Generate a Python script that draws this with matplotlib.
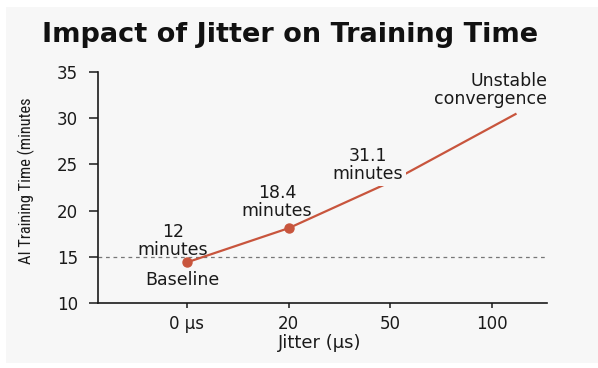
import matplotlib
matplotlib.use("Agg")
import matplotlib.pyplot as plt
from matplotlib.patches import Rectangle

# Data
categories = ["0 μs", "20", "50", "100"]
line_x = [0, 1, 2, 3.24]
line_y = [14.4, 18.1, 23.1, 30.5]
point_x = [0, 1]
point_y = [14.4, 18.1]
baseline = 15
y_ticks = [10, 15, 20, 25, 30, 35]

W, H = 598, 368
fig = plt.figure(figsize=(W / 100, H / 100), dpi=100)
fig.patch.set_facecolor("white")
bg = "#f7f7f7"
fig.patches.append(Rectangle((6 / W, 1 - 363 / H), (W - 6) / W, (363 - 7) / H,
                             transform=fig.transFigure, facecolor=bg,
                             edgecolor="none", zorder=-10))

ax = fig.add_axes([98 / W, 1 - 303 / H, (547 - 98) / W, (303 - 72) / H])
ax.set_facecolor(bg)
ax.patch.set_alpha(0)

red = "#c8553d"
txt = "#1a1a1a"

ax.axhline(baseline, color="#777777", linestyle=(0, (3, 3)), linewidth=0.9, zorder=1)
ax.plot(line_x, line_y, color=red, linewidth=1.6, zorder=2, solid_capstyle="butt")
ax.plot(point_x, point_y, "o", color=red, markersize=6.5, zorder=4)

ax.set_xlim(-0.875, 3.54)
ax.set_ylim(10, 35)
ax.set_xticks(range(len(categories)))
ax.set_xticklabels(categories)
ax.set_yticks(y_ticks)

for s in ["top", "right"]:
    ax.spines[s].set_visible(False)
for s in ["left", "bottom"]:
    ax.spines[s].set_color(txt)
    ax.spines[s].set_linewidth(1.2)
ax.tick_params(axis="both", colors=txt, labelsize=12, width=1.1)
ax.tick_params(axis="y", length=6.5, pad=8)
ax.tick_params(axis="x", length=3.5, pad=5)

bb = dict(boxstyle="square,pad=0.15", facecolor=bg, edgecolor="none")
fs = 12.5
ax.text(-0.14, 16.75, "12\nminutes", ha="center", va="center", fontsize=fs,
        color=txt, linespacing=1.0, zorder=3)
ax.text(-0.05, 12.5, "Baseline", ha="center", va="center", fontsize=fs,
        color=txt, zorder=3)
ax.text(0.885, 20.9, "18.4\nminutes", ha="center", va="center", fontsize=fs,
        color=txt, linespacing=1.0, zorder=3)
ax.text(1.78, 24.9, "31.1\nminutes", ha="center", va="center", fontsize=fs,
        color=txt, linespacing=1.0, zorder=3, bbox=bb)
ax.text(3.54, 33.0, "Unstable\nconvergence", ha="right", va="center",
        fontsize=fs, color=txt, linespacing=1.0, zorder=3, multialignment="right")

ax.set_xlabel("Jitter (μs)", fontsize=13, color=txt, va="center")
ax.xaxis.set_label_coords((320 - 98) / 449, (303 - 343) / 231)
ax.set_ylabel("AI Training Time (minutes", fontsize=11.8, color=txt, va="center",
              family=["Roboto Condensed", "Open Sans Condensed", "Liberation Sans Narrow",
                      "Arial Narrow", "Liberation Sans", "DejaVu Sans"])
ax.yaxis.set_label_coords((26 - 98) / 449, (303 - 181) / 231)

fig.text(290 / W, 1 - 35 / H, "Impact of Jitter on Training Time", ha="center",
         va="center", fontsize=19.5, fontweight="bold", color="#111111")

fig.savefig("out.png", dpi=100, facecolor=fig.get_facecolor())
